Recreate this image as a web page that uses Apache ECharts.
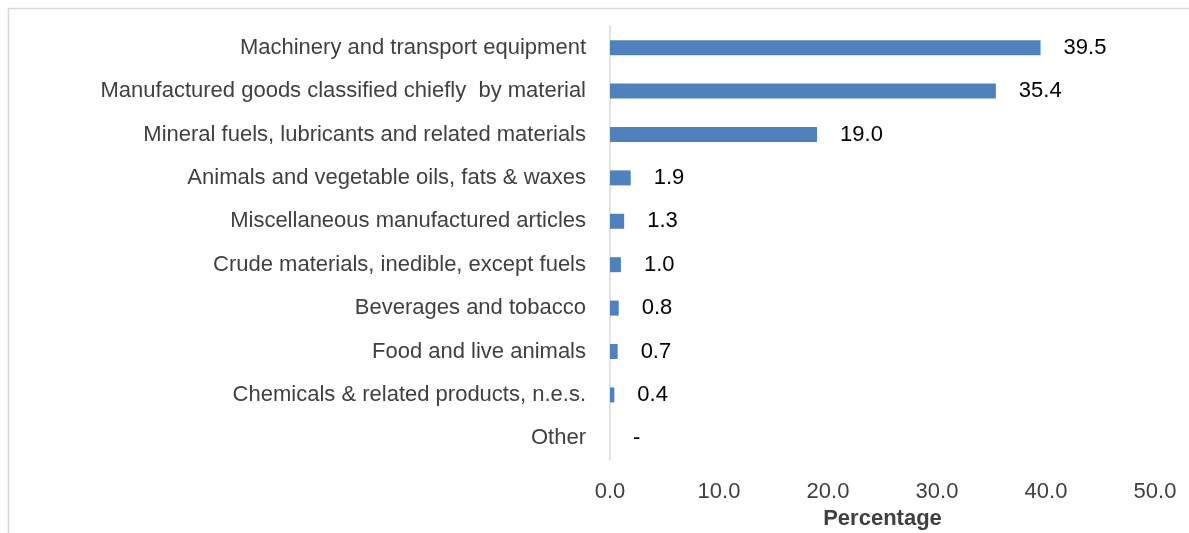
<!DOCTYPE html>
<html lang="en">
<head>
  <meta charset="UTF-8">
  <title>Exports by commodity</title>
  <script src="https://cdn.jsdelivr.net/npm/echarts@6/dist/echarts.min.js"></script>
  <style>
    html, body { margin: 0; padding: 0; background: #fff; }
    #chart { width: 1189px; height: 533px; }
  </style>
</head>
<body>
<div id="chart"></div>
<script>
  // categories listed bottom to top (category axis starts at the bottom)
  var categories = [
    'Other',
    'Chemicals & related products, n.e.s.',
    'Food and live animals',
    'Beverages and tobacco',
    'Crude materials, inedible, except fuels',
    'Miscellaneous manufactured articles',
    'Animals and vegetable oils, fats & waxes',
    'Mineral fuels, lubricants and related materials',
    'Manufactured goods classified chiefly  by material',
    'Machinery and transport equipment'
  ];
  var values = [0, 0.4, 0.7, 0.8, 1.0, 1.3, 1.9, 19.0, 35.4, 39.5];

  var chart = echarts.init(document.getElementById('chart'));
  var font = 'Liberation Sans, Arial, sans-serif';

  chart.setOption({
    animation: false,
    graphic: [{
      type: 'rect',
      left: 6, top: 6,
      shape: { width: 1300, height: 600 },
      style: { fill: 'none', stroke: '#d9d9d9', lineWidth: 1.5 },
      silent: true
    }],
    grid: { left: 610, right: 34, top: 26, height: 434, outerBoundsMode: 'none', containLabel: false },
    xAxis: {
      type: 'value',
      min: 0, max: 50, interval: 10,
      name: 'Percentage',
      nameLocation: 'middle',
      nameGap: 48,
      nameMoveOverlap: false,
      nameTextStyle: { fontFamily: font, fontSize: 22, fontWeight: 'bold', color: '#404040' },
      axisLine: { show: false },
      axisTick: { show: false },
      splitLine: { show: false },
      axisLabel: {
        margin: 21,
        fontFamily: font, fontSize: 22, color: '#404040',
        formatter: function (v) { return v.toFixed(1); }
      }
    },
    yAxis: {
      type: 'category',
      data: categories,
      axisLine: { show: true, lineStyle: { color: '#d9d9d9', width: 1.5 } },
      axisTick: { show: false },
      axisLabel: { margin: 24, fontFamily: font, fontSize: 22, color: '#404040' }
    },
    series: [{
      type: 'bar',
      data: values,
      barWidth: 15,
      itemStyle: { color: '#4f81bd' },
      label: {
        show: true,
        position: 'right',
        distance: 23,
        fontFamily: font, fontSize: 22, color: '#000',
        formatter: function (p) { return p.value === 0 ? '-' : p.value.toFixed(1); }
      }
    }]
  });
</script>
</body>
</html>
